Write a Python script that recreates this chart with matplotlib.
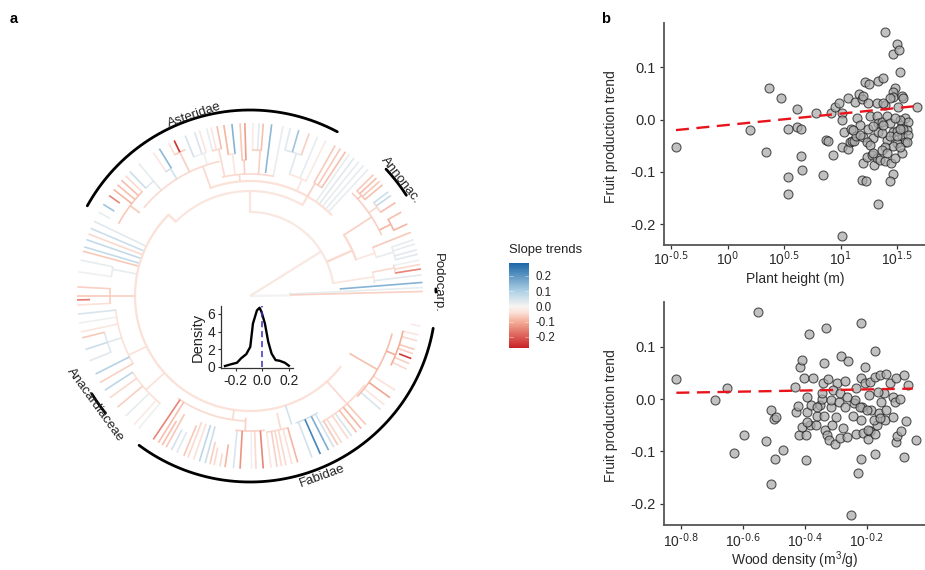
import numpy as np
import matplotlib
matplotlib.use("Agg")
import matplotlib.pyplot as plt
from matplotlib.colors import LinearSegmentedColormap, Normalize
from matplotlib.cm import ScalarMappable
from matplotlib.ticker import NullLocator

plt.rcParams['font.family'] = ['Liberation Sans', 'DejaVu Sans']
plt.rcParams['mathtext.default'] = 'regular'
plt.rcParams['axes.unicode_minus'] = False

# ---------- tree: internal nodes (radius, arc from, arc to, stem angle, stem start, slope)
nodes_backbone = [
    (84, 8.8, 90, 32, 0, -.025), (105, 60, 135, 90, 84, -.03),
    (115, 45, 110, 60, 105, -.04), (115, 135, 322, 135, 105, -.04),
]
nodes_right = [
    (40, 1.5, 4.5, 1, 0, .005), (125, 6, 11, 8.8, 84, -.03), (147, 9, 12, 11, 125, -.05),
    (112, 19, 33, 24, 84, -.05), (132, 17, 21.6, 19, 112, -.03), (150, 14, 19, 17, 132, .02),
    (145, 25, 45, 33, 112, -.06), (158, 24.6, 29, 27, 145, -.09), (155, 32.7, 37, 35, 145, -.05),
    (150, 40, 44.5, 42, 145, -.07),
]
nodes_asteridae = [
    (130, 56.5, 60.5, 60, 115, -.06), (128, 64, 72, 66, 115, -.03), (150, 70, 76.5, 72, 128, .03),
    (122, 79, 103, 95, 115, -.05), (146, 85.6, 89, 86, 122, -.06), (136, 91.7, 93.3, 92.5, 122, -.06),
    (143, 96, 98.7, 97, 122, -.03), (150, 101, 104.5, 102, 122, -.05), (138, 103, 140, 110, 115, -.05),
    (150, 107, 112, 108, 138, .01), (160, 114, 118, 116, 138, -.06), (150, 121.6, 124, 122, 138, .05),
    (150, 130, 134, 130, 138, .03), (150, 136, 151, 143, 138, -.07),
]
nodes_left = [
    (140, 168, 172, 169, 115, .02), (140, 177, 183, 180, 115, -.06), (135, 186, 210, 206, 115, -.04),
    (150, 194, 202, 198, 135, .03), (140, 213, 230, 222, 115, -.04),
]
nodes_fabidae = [
    (125, 235, 268, 262, 115, -.05), (135, 264, 276, 268, 122, -.06), (137, 277, 286, 283, 120, -.05),
    (135, 290, 300, 288, 115, .05), (145, 300, 322, 312, 115, -.05), (147, 317, 345, 330, 115, -.08),
    (157, 334, 347, 338, 147, -.10),
]

# ---------- tree: tips (angle, start radius, slope)
tips_right = [
    (1.5, 40, -.06), (4.5, 90, .15), (2.8, 40, .02), (7, 125, .03), (9, 147, -.15), (10.5, 147, -.05), (12, 147, .01),
    (14, 150, .03), (15.5, 150, .03), (17.5, 150, .02), (19, 150, .02), (21.6, 132, -.07),
    (24.6, 158, -.09), (29, 158, -.08), (32.7, 155, -.08), (35.5, 155, .07), (37, 155, .06),
    (40, 150, -.08), (41.5, 150, -.07), (43, 150, -.08), (44.5, 150, -.07),
    (47, 115, .02), (49, 115, .02), (51, 115, .02), (53, 115, .03), (55, 115, .02),
]
tips_asteridae = [
    (56.5, 130, -.08), (58.5, 130, -.07), (60.5, 130, -.07), (64, 128, -.02), (67, 128, .02),
    (70, 150, -.06), (73.6, 150, .12), (76.5, 150, .03), (79, 122, .02), (82.8, 124, .14),
    (85.6, 146, -.08), (87, 146, .03), (89, 146, -.02), (91.7, 136, -.12), (93.3, 136, -.07),
    (96, 143, .15), (98.7, 143, -.09), (101, 150, -.08), (103, 150, -.03), (104.5, 150, .02),
    (107, 150, -.03), (108.7, 150, .04), (112, 150, .05), (116, 160, -.25), (118, 160, -.04),
    (121.6, 150, .14), (124, 150, -.03), (130, 150, .02), (134, 150, .06), (136, 150, -.05),
    (138, 150, -.08), (140, 150, -.08), (142, 150, -.09), (144.5, 160, -.15), (148, 160, .12), (151, 160, .02),
]
tips_left = [
    (154.4, 116, .03), (157, 116, .06), (159, 116, -.05), (161, 116, .07), (163.5, 116, .07), (165, 116, -.07),
    (168, 140, .02), (172, 140, .01), (177, 140, -.06), (180, 140, -.07), (181.3, 160, -.16), (183, 140, -.04),
    (186, 135, .04), (189, 135, .01), (192, 135, -.03), (194, 150, -.07), (198, 150, .06), (202, 150, .03),
    (206.8, 135, .09), (210, 135, -.06), (213, 140, .08), (216, 140, -.05), (220, 140, -.06), (224, 140, .02),
    (228, 140, -.02), (230, 140, .01),
]
tips_fabidae = [
    (236, 125, -.15), (238, 125, -.08), (239.5, 145, -.08), (241, 135, -.07), (243, 150, .05), (245, 150, .03),
    (247.5, 140, -.07), (249, 135, -.05), (251, 135, -.04), (253, 135, .08), (255, 135, .06), (256.6, 150, -.06),
    (258, 155, -.05), (260, 160, -.05), (261.7, 150, -.09), (264.5, 135, .04), (266.7, 135, -.13), (270.5, 135, .01),
    (272, 135, -.05), (274.4, 135, -.15), (277, 137, -.03), (279, 137, -.06), (280.5, 137, -.05), (282, 137, -.05),
    (284, 137, -.04), (286, 137, -.09), (291, 135, .05), (294, 135, .23), (297, 135, .16), (299, 135, .05),
    (300.5, 145, -.07), (302, 145, -.05), (304.5, 145, -.05), (306, 145, .04), (308, 145, -.08), (310, 145, -.09),
    (312, 145, -.07), (319, 147, .04), (321, 147, -.03), (324, 147, -.11), (327, 147, -.04), (335, 157, -.05),
    (337, 157, -.06), (338.8, 160, -.24), (340.5, 157, -.06), (342, 157, -.07), (345, 157, -.05), (347, 157, -.03),
    (350, 163, -.02),
]
tip_radius = 173
clade_names = ['Asteridae', 'Annonac.', 'Podocarp.', 'Anacardiaceae', 'Fabidae']
clade_from = [62, 32.8, 1.2, 211.7, 233.4]
clade_to = [151, 43, 2.2, 219, 350]

# ---------- density inset
density_x = [-.28, -.23, -.19, -.16, -.12, -.09, -.07, -.04, -.02, -.005, .02, .045, .07, .10, .13, .17, .20]
density_y = [.08, .30, .45, .94, 1.43, 2.26, 4.9, 6.4, 6.7, 6.2, 4.9, 2.83, 1.5, .75, .68, .45, .11]

# ---------- scatter panels
height_log = [-.459, .195, .343, .367, .470, .536, .536, .536, .618, .615, .645, .645, .657, .778, .843, .870, .888, .917,
              .935, .950, .988, 1.012, 1.015, 1.015, 1.015, 1.033, 1.062, 1.068, 1.083, 1.092, 1.104, 1.118, 1.130, 1.136,
              1.145, 1.166, 1.186, 1.201, 1.172, 1.201, 1.216, 1.249, 1.201, 1.186, 1.222, 1.240, 1.246, 1.231, 1.260,
              1.284, 1.275, 1.296, 1.320, 1.328, 1.334, 1.379, 1.393, 1.467, 1.503, 1.518, 1.527, 1.482, 1.467, 1.462,
              1.541, 1.556, 1.506, 1.675, 1.320, 1.334, 1.364, 1.408, 1.438, 1.467, 1.497, 1.541, 1.571, 1.601, 1.586,
              1.541, 1.571, 1.497, 1.467, 1.408, 1.438, 1.393, 1.364, 1.320, 1.349, 1.393, 1.444, 1.482, 1.541, 1.467,
              1.438, 1.393, 1.438, 1.379, 1.334, 1.290, 1.364, 1.497, 1.556, 1.527, 1.482, 1.379, 1.231, 1.260, 1.527,
              1.408, 1.290, 1.172, 1.112, 1.527, 1.601, 1.586]
height_trend = [-.052, -.020, -.062, .061, .041, -.018, -.110, -.142, .021, -.014, -.017, -.069, -.097, .013, -.106, -.039,
                -.041, .013, -.068, .025, .031, .013, -.001, -.222, -.052, -.024, .042, -.056, -.042, -.017, -.041, -.040,
                .034, -.031, .004, .049, .039, .045, -.011, -.034, .071, .069, -.082, -.115, -.117, -.017, .031, -.072,
                .006, -.036, -.068, -.087, .031, -.162, .073, .080, .167, .125, .145, .134, .091, .060, .053, .044, .045,
                .041, .025, .025, .006, -.007, -.004, .007, -.007, -.023, -.021, -.010, .003, -.004, -.020, -.032, -.042,
                -.045, -.050, -.039, -.032, -.052, -.058, -.074, -.077, -.080, -.082, -.074, -.064, -.104, -.117, .028,
                .041, .031, -.023, -.013, -.026, -.032, -.017, -.001, .003, -.010, -.042, -.048, -.052, -.064, -.064,
                -.029, -.020, -.017, -.029, -.042]
height_fit_x = [-.459, 1.675]
height_fit_y = [-.020, .026]

density_log = [-.815, -.691, -.650, -.629, -.597, -.551, -.524, -.509, -.509, -.500, -.494, -.495, -.469, -.432, -.428,
               -.423, -.419, -.416, -.408, -.402, -.410, -.397, -.394, -.392, -.396, -.385, -.381, -.383, -.372, -.364,
               -.359, -.351, -.345, -.338, -.338, -.333, -.340, -.324, -.335, -.329, -.323, -.313, -.314, -.315, -.302,
               -.300, -.297, -.291, -.286, -.284, -.275, -.270, -.270, -.261, -.263, -.251, -.245, -.241, -.234, -.234,
               -.227, -.218, -.219, -.216, -.218, -.218, -.211, -.205, -.204, -.195, -.192, -.189, -.187, -.189, -.174,
               -.174, -.172, -.173, -.166, -.176, -.157, -.154, -.161, -.138, -.141, -.138, -.144, -.125, -.116, -.114,
               -.105, -.103, -.105, -.108, -.092, -.088, -.081, -.079, -.073, -.065, -.041, -.162, -.238, -.222, -.308,
               -.286, -.265, -.200, -.157, -.195, -.345, -.362, -.394]
density_trend = [.038, -.002, .021, -.104, -.069, .167, -.081, -.020, -.162, -.039, -.034, -.115, -.097, .023, -.024, -.013,
                 -.069, .061, .075, .040, -.054, -.117, .003, -.024, -.069, .125, -.011, -.050, .041, -.050, -.032, -.011,
                 .001, -.032, .069, .136, .030, .039, -.059, -.069, -.078, -.050, -.016, -.002, -.086, -.035, .031, -.005,
                 -.075, .082, -.056, .034, -.015, .072, -.073, -.222, -.032, -.008, -.066, .022, -.141, .145, .041, -.016,
                 -.040, -.115, -.064, .030, .061, -.077, .008, .033, -.021, -.062, .092, -.105, -.067, .043, -.050, -.040,
                 .046, -.005, -.027, .047, -.040, -.021, .011, .030, .004, -.034, -.082, -.071, .041, -.005, .000, -.062,
                 .046, -.110, -.042, .027, -.078, .014, -.002, -.016, .017, .011, .004, -.021, -.037, -.059, .011, -.015,
                 -.043]
density_fit_x = [-.815, -.051]
density_fit_y = [.012, .020]

height_ticks = [-.5, 0, .5, 1, 1.5]
height_labels = ['-0.5', '0', '0.5', '1', '1.5']
wood_ticks = [-.8, -.6, -.4, -.2]
wood_labels = ['-0.8', '-0.6', '-0.4', '-0.2']
trend_ticks = [-.2, -.1, 0, .1]
legend_ticks = [-.2, -.1, 0, .1, .2]

# ---------- drawing
W, H = 925, 570
fig = plt.figure(figsize=(W / 100, H / 100), dpi=100, facecolor='white')


def box(x0, y_top, x1, y_bottom):
    return [x0 / W, 1 - y_bottom / H, (x1 - x0) / W, (y_bottom - y_top) / H]


cmap = LinearSegmentedColormap.from_list('slope', [
    (0, '#c6191f'), (.32, '#f4ae98'), (.43, '#fbe2d9'), (.5, '#f6f4f2'), (.68, '#aed0e5'), (1, '#1e68a8')])
norm = Normalize(-.28, .28)

tree = fig.add_axes(box(50, 96, 450, 496), projection='polar')
tree.set_rlim(0, 200)
tree.set_axis_off()


def rad(d):
    return np.deg2rad(d)


def draw_arc(r, a, b, value, lw=1.2, z=2):
    t = np.linspace(a, b, max(int(abs(b - a)) * 2, 3))
    tree.plot(rad(t), np.full_like(t, r, dtype=float), color=value, lw=lw, solid_capstyle='round', zorder=z)


def draw_radial(a, r0, r1, value, lw=1.2, z=2):
    tree.plot([rad(a)] * 2, [r0, r1], color=value, lw=lw, solid_capstyle='butt', zorder=z)


all_nodes = nodes_backbone + nodes_right + nodes_asteridae + nodes_left + nodes_fabidae
all_tips = tips_right + tips_asteridae + tips_left + tips_fabidae
for r, a, b, sa, r0, s in all_nodes:
    z = 2 + abs(s)
    draw_arc(r, a, b, cmap(norm(s)), lw=1.6 if r0 < 110 and r < 120 else 1.2, z=z)
    draw_radial(sa, r0, r, cmap(norm(s)), lw=1.6 if r0 < 110 and r < 120 else 1.2, z=z)
for a, r0, s in all_tips:
    draw_radial(a, r0, tip_radius, cmap(norm(s)), z=2 + abs(s))

for a, b in zip(clade_from, clade_to):
    t = np.linspace(a, b, 200)
    tree.plot(rad(t), np.full_like(t, 186.0), color='black', lw=2.0, solid_capstyle='round', zorder=4)

label_pos = [(107, 189, 19), (37.7, 190, -52), (4, 188, -90), (215, 189, -54), (292, 194, 20)]
for name, (a, r, rot) in zip(clade_names, label_pos):
    tree.text(rad(a), r, name, rotation=rot, rotation_mode='anchor', ha='center', va='center',
              fontsize=9.5, color='#222222', zorder=5)

# density inset
ins = fig.add_axes(box(221, 306, 293, 368.3))
ins.patch.set_alpha(0)
ins.plot(density_x, density_y, color='black', lw=1.7)
ins.plot([0, 0], [0, 6.9], color='#3a2fc0', lw=1.1, dashes=(4, 2.5))
ins.set_xlim(-.31, .231)
ins.set_ylim(-.18, 6.9)
ins.set_xticks([-.2, 0, .2], ['-0.2', '0.0', '0.2'])
ins.set_yticks([0, 2, 4, 6])
ins.set_ylabel('Density', fontsize=10.5, color='#222222', labelpad=2)
ins.tick_params(labelsize=10, length=2.5, width=.8, pad=1.5, color='#333333', labelcolor='#222222')
for side in ('top', 'right'):
    ins.spines[side].set_visible(False)
for side in ('left', 'bottom'):
    ins.spines[side].set_linewidth(.9)
    ins.spines[side].set_color('#333333')

# colour legend
cax = fig.add_axes(box(509, 263, 529, 348))
sm = ScalarMappable(norm=norm, cmap=cmap)
cb = fig.colorbar(sm, cax=cax, ticks=legend_ticks)
cb.outline.set_visible(False)
cb.ax.set_yticklabels(['-0.2', '-0.1', '0.0', '0.1', '0.2'])
cb.ax.tick_params(length=0, labelsize=8.3, pad=5, labelcolor='#222222')
for v in legend_ticks:
    cax.plot([0, .2], [v, v], color='white', lw=.4, alpha=.7, transform=cax.get_yaxis_transform())
    cax.plot([.8, 1], [v, v], color='white', lw=.4, alpha=.7, transform=cax.get_yaxis_transform())
cax.set_ylim(-.272, .283)
fig.text(509 / W, 1 - 250 / H, 'Slope trends', fontsize=9.4, va='center', ha='left', color='#222222')


def scatter_panel(rect, xs, ys, fx, fy, xlim, ylim, ticks, labels, xlabel, lab_y, xpad):
    ax = fig.add_axes(box(*rect))
    ax.scatter(np.power(10.0, xs), ys, s=42, facecolor='#a9a9a9', edgecolor='#1a1a1a', linewidth=.8, alpha=.72,
               zorder=2, clip_on=True)
    ax.plot(np.power(10.0, fx), fy, color='#e8141c', lw=1.7, dashes=(5.5, 3.2), zorder=3)
    ax.set_xscale('log')
    ax.set_xlim(10.0 ** xlim[0], 10.0 ** xlim[1])
    ax.set_ylim(*ylim)
    ax.set_xticks([10.0 ** t for t in ticks], ['$10^{\\text{%s}}$' % s for s in labels])
    ax.xaxis.set_minor_locator(NullLocator())
    ax.set_yticks(trend_ticks, ['-0.2', '-0.1', '0.0', '0.1'])
    ax.tick_params(labelsize=10.5, length=3, width=.9, pad=3, color='#333333', labelcolor='#2a2a2a')
    ax.tick_params(axis='x', labelsize=10, pad=xpad)
    for side in ('top', 'right'):
        ax.spines[side].set_visible(False)
    for side in ('left', 'bottom'):
        ax.spines[side].set_linewidth(1.3)
        ax.spines[side].set_color('#555555')
    ax.set_ylabel('Fruit production trend', fontsize=10, color='#2a2a2a')
    ax.yaxis.set_label_coords((618 - rect[0]) / (rect[2] - rect[0]), .49)
    ax.set_xlabel(xlabel, fontsize=10, color='#2a2a2a')
    ax.xaxis.set_label_coords((795 - rect[0]) / (rect[2] - rect[0]), (rect[3] - lab_y) / (rect[3] - rect[1]))
    ax.xaxis.label.set_va('center')
    return ax


scatter_panel((664, 23, 925, 245), height_log, height_trend, height_fit_x, height_fit_y,
              (-.565, 1.748), (-.2396, .1847), height_ticks, height_labels, 'Plant height (m)', 279, 0)
scatter_panel((664, 302, 925, 525), density_log, density_trend, density_fit_x, density_fit_y,
              (-.855, -.0116), (-.2407, .1855), wood_ticks, wood_labels, 'Wood density (m$^3$/g)', 560, 1.5)

fig.text(14 / W, 1 - 19 / H, 'a', fontsize=10.5, fontweight='bold', ha='center', va='center')
fig.text(606 / W, 1 - 19 / H, 'b', fontsize=10.5, fontweight='bold', ha='center', va='center')

fig.savefig('out.png', dpi=100, facecolor='white')
